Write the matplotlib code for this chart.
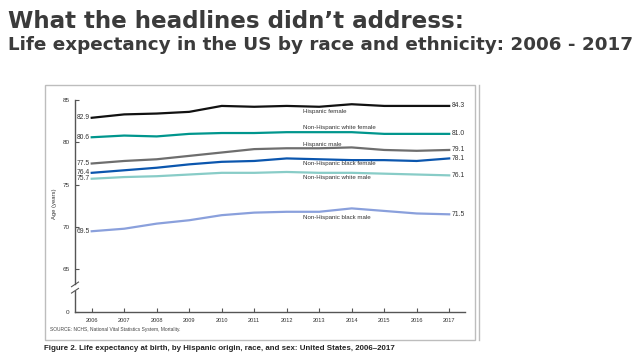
import matplotlib
matplotlib.use("Agg")
import matplotlib.pyplot as plt
from matplotlib.patches import Rectangle
from matplotlib.lines import Line2D
import matplotlib.transforms as mtransforms

years = [2006, 2007, 2008, 2009, 2010, 2011, 2012, 2013, 2014, 2015, 2016, 2017]

series_names = [
    "Hispanic female",
    "Non-Hispanic white female",
    "Hispanic male",
    "Non-Hispanic black female",
    "Non-Hispanic white male",
    "Non-Hispanic black male",
]
hispanic_female = [82.9, 83.3, 83.4, 83.6, 84.3, 84.2, 84.3, 84.2, 84.5, 84.3, 84.3, 84.3]
nh_white_female = [80.6, 80.8, 80.7, 81.0, 81.1, 81.1, 81.2, 81.2, 81.2, 81.0, 81.0, 81.0]
hispanic_male = [77.5, 77.8, 78.0, 78.4, 78.8, 79.2, 79.3, 79.3, 79.4, 79.1, 79.0, 79.1]
nh_black_female = [76.4, 76.7, 77.0, 77.4, 77.7, 77.8, 78.1, 78.0, 77.9, 77.9, 77.8, 78.1]
nh_white_male = [75.7, 75.9, 76.0, 76.2, 76.4, 76.4, 76.5, 76.4, 76.4, 76.3, 76.2, 76.1]
nh_black_male = [69.5, 69.8, 70.4, 70.8, 71.4, 71.7, 71.8, 71.8, 72.2, 71.9, 71.6, 71.5]

start_labels = ["82.9", "80.6", "77.5", "76.4", "75.7", "69.5"]
end_labels = ["84.3", "81.0", "79.1", "78.1", "76.1", "71.5"]

y_ticks = [60, 65, 70, 75, 80, 85]
y_tick_labels = ["0", "65", "70", "75", "80", "85"]

title = "What the headlines didn\u2019t address:"
subtitle = "Life expectancy in the US by race and ethnicity: 2006 - 2017"
caption = "Figure 2. Life expectancy at birth, by Hispanic origin, race, and sex: United States, 2006\u20132017"
source = "SOURCE: NCHS, National Vital Statistics System, Mortality."

# styling / layout (not data)
colors = ["#111111", "#00968d", "#6e6e6e", "#0b56ae", "#88ccc7", "#8aa0dc"]
inline_label_y = [83.7, 81.8, 79.8, 77.5, 75.9, 71.15]
inline_label_x = 2012.5

W, H = 639, 364
fig = plt.figure(figsize=(W / 100, H / 100), dpi=100)
fig.patch.set_facecolor("white")
renderer = fig.canvas.get_renderer()


def fx(x):
    return x / W


def fy(y):
    return 1 - y / H


def fit_width(t, target_px):
    w = t.get_window_extent(renderer=renderer).width
    t.set_fontsize(t.get_fontsize() * target_px / w)


# slide title
t1 = fig.text(fx(8), fy(27.8), title, fontsize=16, fontweight="bold",
              family=["DejaVu Sans"], color="#3b3b3b", va="baseline", ha="left")
fit_width(t1, 457)
t2 = fig.text(fx(8), fy(49.8), subtitle, fontsize=11, fontweight="bold",
              family=["DejaVu Sans"], color="#3b3b3b", va="baseline", ha="left")
fit_width(t2, 627)

# panel border
fig.patches.append(Rectangle((fx(45), fy(340)), fx(475) - fx(45), fy(85) - fy(340),
                             transform=fig.transFigure, fill=False,
                             edgecolor="#bdbdbd", linewidth=1.0))
fig.lines.append(Line2D([fx(479), fx(479)], [fy(85), fy(340)], transform=fig.transFigure,
                        color="#bdbdbd", linewidth=1.0))

# axes
left_px, right_px, top_px, bot_px = 75, 465, 100, 311.7
ax = fig.add_axes([fx(left_px), fy(bot_px), (right_px - left_px) / W, (bot_px - top_px) / H])
x0 = 2006 - (91.7 - left_px) / 32.5
x1 = 2006 + (right_px - 91.7) / 32.5
ax.set_xlim(x0, x1)
ax.set_ylim(60, 85)

all_series = [hispanic_female, nh_white_female, hispanic_male,
              nh_black_female, nh_white_male, nh_black_male]
for name, vals, c, ly, sl, el in zip(series_names, all_series, colors,
                                     inline_label_y, start_labels, end_labels):
    ax.plot(years, vals, color=c, linewidth=1.6, solid_joinstyle="round", zorder=3)
    ax.text(inline_label_x, ly, name, fontsize=4.4, color="#333333",
            family=["Liberation Sans", "DejaVu Sans"], va="center", ha="left")
    ax.text(years[0] - 0.05, vals[0], sl, fontsize=4.9, color="#333333",
            family=["Liberation Sans", "DejaVu Sans"], va="center", ha="right")
    ax.text(years[-1] + 0.08, vals[-1], el, fontsize=4.9, color="#333333",
            family=["Liberation Sans", "DejaVu Sans"], va="center", ha="left", clip_on=False)

for s in ["top", "right", "left"]:
    ax.spines[s].set_visible(False)
ax.spines["bottom"].set_color("#555555")
ax.spines["bottom"].set_linewidth(1.0)

ax.set_xticks(years)
ax.set_xticklabels([str(y) for y in years])
ax.set_yticks(y_ticks)
ax.set_yticklabels(y_tick_labels)
ax.tick_params(axis="x", direction="in", length=3, width=0.8, color="#555555",
               labelsize=4.1, labelcolor="#333333", pad=4.5)
ax.tick_params(axis="y", direction="in", length=3, width=0.8, color="#555555",
               labelsize=4.6, labelcolor="#333333", pad=4)
for lab in ax.get_xticklabels() + ax.get_yticklabels():
    lab.set_family(["Liberation Sans", "DejaVu Sans"])

# left spine with break
bt = mtransforms.blended_transform_factory(ax.transAxes, ax.transData)
ax.plot([0, 0], [60, 62.45], transform=bt, color="#555555", lw=1.0, clip_on=False)
ax.plot([0, 0], [63.25, 85], transform=bt, color="#555555", lw=1.0, clip_on=False)
dx = 3.5 / (right_px - left_px)
ax.plot([-dx, dx], [62.2, 62.75], transform=bt, color="#555555", lw=0.8, clip_on=False)
ax.plot([-dx, dx], [62.95, 63.5], transform=bt, color="#555555", lw=0.8, clip_on=False)

ax.set_ylabel("Age (years)", fontsize=4.2, color="#333333",
              family=["Liberation Sans", "DejaVu Sans"])
ax.yaxis.set_label_coords((56.7 - left_px) / (right_px - left_px), (311.7 - 204) / (311.7 - 100))

# source & caption
fig.text(fx(50), fy(331), source, fontsize=3.5, color="#444444",
         family=["Liberation Sans", "DejaVu Sans"], va="baseline", ha="left")
t3 = fig.text(fx(44), fy(349.5), caption, fontsize=6.0, fontweight="bold", color="#222222",
              family=["Liberation Sans Narrow", "Liberation Sans", "DejaVu Sans"],
              va="baseline", ha="left")
fit_width(t3, 353)

fig.savefig("out.png", dpi=100, facecolor="white")
